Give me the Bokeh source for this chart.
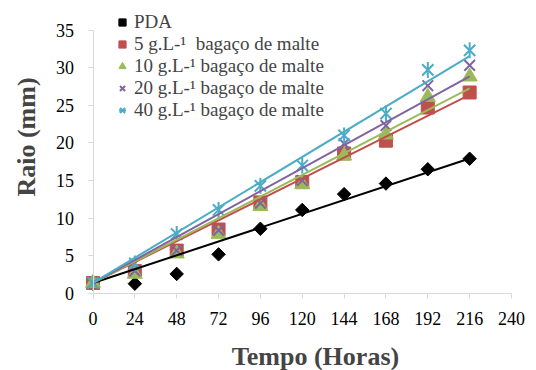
import numpy as np
from bokeh.plotting import figure
from bokeh.models import Range1d, Legend, LegendItem, Label, FixedTicker
from bokeh.embed import file_html
from bokeh.resources import INLINE

# ---- data ----
horas = [0, 24, 48, 72, 96, 120, 144, 168, 192, 216]
pda = [1.4, 1.3, 2.6, 5.2, 8.6, 11.1, 13.2, 14.6, 16.5, 17.9]
bm5 = [1.4, 3.0, 5.7, 8.5, 12.1, 14.8, 18.6, 20.3, 24.7, 26.7]
bm10 = [1.4, 2.6, 5.3, 7.9, 11.6, 14.5, 18.3, 21.1, 26.1, 28.8]
bm20 = [1.4, 3.0, 5.7, 8.4, 12.0, 15.0, 19.9, 22.3, 27.6, 30.3]
bm40 = [1.4, 4.0, 7.9, 11.1, 14.3, 17.0, 21.0, 23.9, 29.7, 32.3]

x_ticks = [0, 24, 48, 72, 96, 120, 144, 168, 192, 216, 240]
y_ticks = [0, 5, 10, 15, 20, 25, 30, 35]

labels = ["PDA",
          "5 g.L-\u00b9  bagaço de malte",
          "10 g.L-\u00b9 bagaço de malte",
          "20 g.L-\u00b9 bagaço de malte",
          "40 g.L-\u00b9 bagaço de malte"]

FONT = "Liberation Serif"

# The frame covers the whole canvas; the axes sit at x=0 / y=0 (fixed
# location) so that titles and legend can be placed freely without clipping.
W, H = 536, 370
X0_PX, X240_PX = 92.5, 511.0
Y0_PX, Y35_PX = 293.0, 29.5
sx = (X240_PX - X0_PX) / 240.0
sy = (Y0_PX - Y35_PX) / 35.0
x_lo = -X0_PX / sx
x_hi = x_lo + W / sx
y_hi = Y0_PX / sy
y_lo = y_hi - H / sy

p = figure(width=W, height=H, output_backend="svg", toolbar_location=None,
           x_range=Range1d(x_lo, x_hi), y_range=Range1d(y_lo, y_hi),
           min_border=0)
p.outline_line_color = None
p.xgrid.visible = False
p.ygrid.visible = False

for ax in (p.xaxis[0], p.yaxis[0]):
    ax.fixed_location = 0
    ax.axis_line_color = "#d9d9d9"
    ax.major_tick_line_color = "#d9d9d9"
    ax.major_tick_in = 0
    ax.major_tick_out = 5
    ax.minor_tick_line_color = None
    ax.major_label_text_font = FONT
    ax.major_label_text_font_size = "18px"
    ax.major_label_text_color = "#000000"
p.xaxis[0].major_label_standoff = 13
p.yaxis[0].major_label_standoff = 14
p.xaxis[0].bounds = (0, 240)
p.yaxis[0].bounds = (0, 35)
p.xaxis[0].ticker = FixedTicker(ticks=x_ticks)
p.yaxis[0].ticker = FixedTicker(ticks=y_ticks)

x = np.array(horas, dtype=float)


def trend(y):
    y = np.array(y, dtype=float)
    y0 = y[0]
    slope = np.sum(x * (y - y0)) / np.sum(x * x)
    return [x[0], x[-1]], [y0, y0 + slope * x[-1]]


r_pda = p.scatter(horas, pda, marker="square", size=9.5, angle=np.pi / 4,
                  fill_color="black", line_color="black")
r5 = p.scatter(horas, bm5, marker="square", size=13, fill_color="#C0504D",
               line_color="#C0504D")
r10 = p.scatter(horas, bm10, marker="triangle", size=15, fill_color="#9BBB59",
                line_color="#9BBB59")
r20 = p.scatter(horas, bm20, marker="x", size=15, line_color="#8064A2",
                line_width=2)
r40a = p.scatter(horas, bm40, marker="x", size=16, line_color="#4BACC6",
                 line_width=2)
r40b = p.scatter(horas, bm40, marker="dash", size=16, angle=np.pi / 2,
                 line_color="#4BACC6", line_width=2)

for ys, col in [(pda, "black"), (bm5, "#C0504D"), (bm10, "#9BBB59"),
                (bm20, "#8064A2"), (bm40, "#4BACC6")]:
    tx, ty = trend(ys)
    p.line(tx, ty, line_color=col, line_width=2)

legend = Legend(items=[
    LegendItem(label=labels[0], renderers=[r_pda]),
    LegendItem(label=labels[1], renderers=[r5]),
    LegendItem(label=labels[2], renderers=[r10]),
    LegendItem(label=labels[3], renderers=[r20]),
    LegendItem(label=labels[4], renderers=[r40a, r40b]),
], location=(113, 249), padding=0, margin=0, spacing=0,
    label_height=22, glyph_height=22, glyph_width=18, label_standoff=3,
    label_text_font=FONT, label_text_font_size="19px",
    border_line_color=None, background_fill_alpha=0)
p.add_layout(legend, "center")

p.add_layout(Label(x=(26 - X0_PX) / sx, y=(Y0_PX - 136.5) / sy,
                   text="Raio (mm)", angle=np.pi / 2,
                   text_font=FONT, text_font_size="26px", text_font_style="bold",
                   text_align="center", text_baseline="middle"))
p.add_layout(Label(x=(315 - X0_PX) / sx, y=(Y0_PX - 355.8) / sy,
                   text="Tempo (Horas)",
                   text_font=FONT, text_font_size="26px", text_font_style="bold",
                   text_align="center", text_baseline="middle"))

open("out.html", "w").write(file_html(p, INLINE))
